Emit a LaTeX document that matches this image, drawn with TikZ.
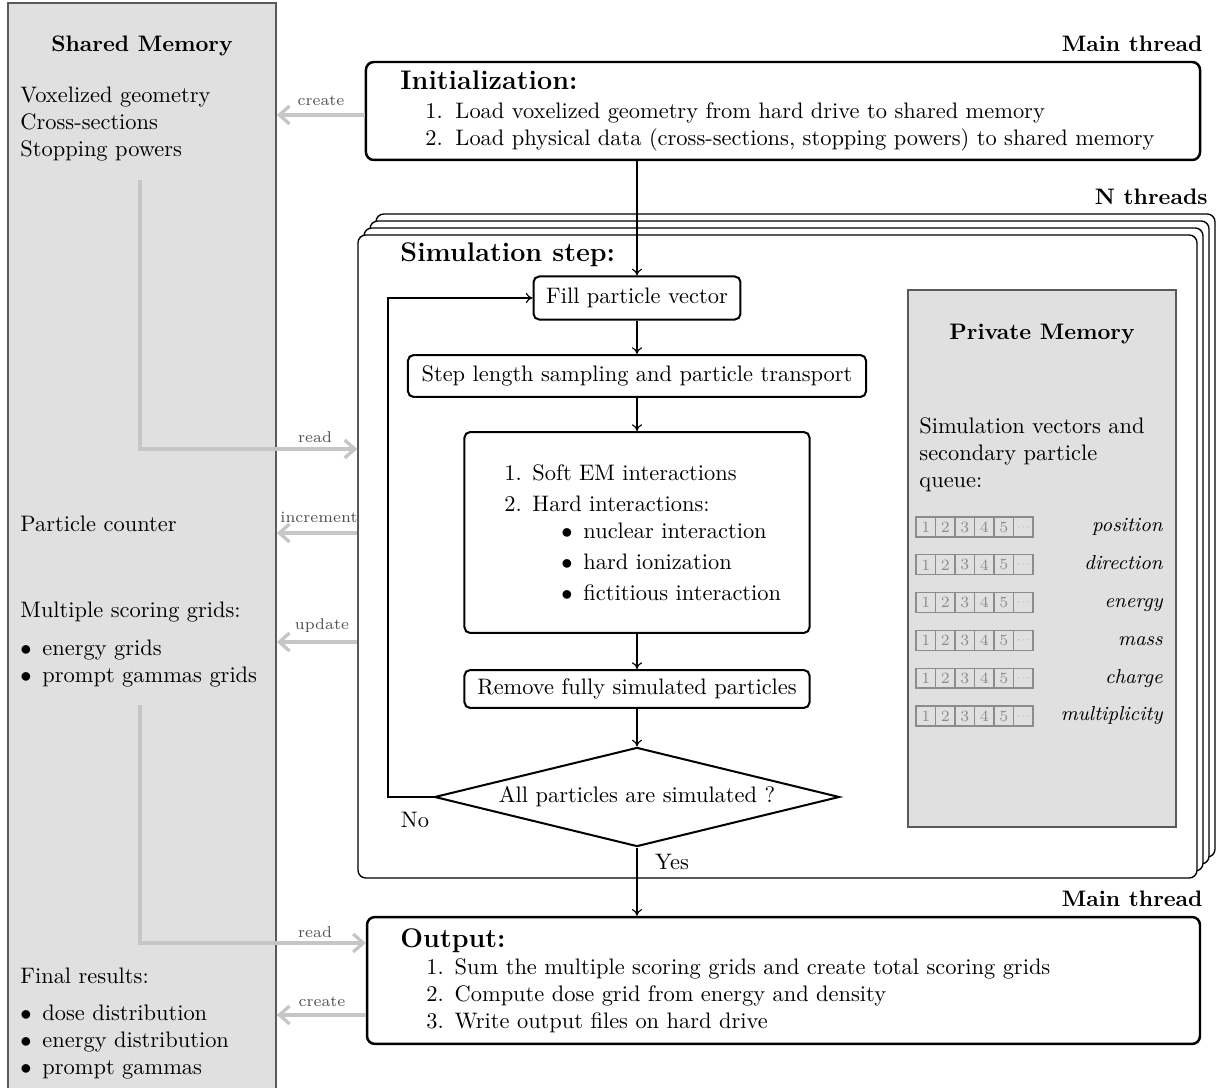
\documentclass[tikz,border=0pt]{standalone}
\usepackage{tikz}
\usepackage{graphicx}
\usetikzlibrary{arrows.meta,shapes.geometric,calc}

\definecolor{memfill}{HTML}{E0E0E0}
\definecolor{memedge}{HTML}{5A5A5A}
\definecolor{flowgray}{HTML}{C6C6C6}
\definecolor{notegray}{HTML}{505050}
\definecolor{cellgray}{HTML}{8C8C8C}

\tikzset{
  mainbox/.style={draw, line width=1.1pt, rounded corners=3.5pt, fill=white, inner sep=0pt},
  threadbox/.style={draw, line width=0.6pt, rounded corners=3.5pt, fill=white, inner sep=0pt,
    minimum width=374.2pt, minimum height=286.8pt},
  stepbox/.style={draw, line width=0.9pt, rounded corners=2.5pt, fill=white, inner sep=0pt},
  membox/.style={draw=memedge, fill=memfill, line width=0.8pt, inner sep=0pt},
  flow/.style={draw, line width=0.5pt, -{To[length=3pt,width=4.5pt]}},
  memflow/.style={draw=flowgray, line width=1.5pt, -{Straight Barb[length=4.5pt,width=8pt]}},
  flowlabel/.style={font=\scriptsize, text=notegray, inner sep=0pt},
  txt/.style={inner sep=0pt, anchor=base west},
  rtxt/.style={inner sep=0pt, anchor=base east},
  cell/.style={draw=cellgray, line width=0.6pt, minimum width=8.7pt, minimum height=8.9pt,
    inner sep=0pt, font=\scriptsize, text=cellgray},
  veclabel/.style={inner sep=0pt, anchor=base east, font=\small\itshape},
}

\newcommand\enumlabel[2]{\makebox[#1][l]{#2}}
\newcommand\bulletlabel{\makebox[9.8pt][l]{$\bullet$}}
\newcommand\celldots{\scalebox{0.55}{$\cdots$}}

\begin{document}
\begin{tikzpicture}[x=0.446pt, y=-0.446pt]
\useasboundingbox (0,0) rectangle (1220,1088);

% ---------------- shared memory column ----------------
\node[membox, minimum width=119.5pt, minimum height=487pt] (shm) at (142,549) {};
\node[inner sep=0pt, anchor=base, font=\bfseries] (shmtitle) at (142,52) {Shared Memory};
\node[txt] (geo) at (20,103) {Voxelized geometry};
\node[txt] (xsec) at (20,130) {Cross-sections};
\node[txt] (spow) at (20,157) {Stopping powers};
\node[txt] (pcount) at (20,532) {Particle counter};
\node[txt] (grids) at (20,618) {Multiple scoring grids:};
\node[txt] (egrid) at (20,656) {\bulletlabel energy grids};
\node[txt] (pggrid) at (20,683) {\bulletlabel prompt gammas grids};
\node[txt] (final) at (20,984) {Final results:};
\node[txt] (dose) at (20,1021) {\bulletlabel dose distribution};
\node[txt] (edist) at (20,1048) {\bulletlabel energy distribution};
\node[txt] (pgam) at (20,1075) {\bulletlabel prompt gammas};

% ---------------- initialization (main thread) ----------------
\node[rtxt, font=\bfseries] (mt1) at (1203,52) {Main thread};
\node[mainbox, minimum width=372pt, minimum height=43.7pt] (init) at (783,111) {};
\node[txt, font=\large\bfseries] (inittitle) at (400,90) {Initialization:};
\node[txt] (init1) at (425,119) {\enumlabel{13.4pt}{1.}Load voxelized geometry from hard drive to shared memory};
\node[txt] (init2) at (425,146) {\enumlabel{13.4pt}{2.}Load physical data (cross-sections, stopping powers) to shared memory};

% ---------------- stacked thread boxes ----------------
\node[rtxt, font=\bfseries] (nthreads) at (1208,205) {N threads};
\foreach \k in {3,2,1}
  \node[threadbox] (copy\k) at ($(777.5,556.5)+(\k*6,-\k*7)$) {};
\node[threadbox] (threads) at (777.5,556.5) {};
\node[txt, font=\large\bfseries] (simtitle) at (400,262) {Simulation step:};

% ---------------- simulation loop ----------------
\node[stepbox, minimum width=92.3pt, minimum height=19.2pt] (fill) at (637,298) {Fill particle vector};
\node[stepbox, minimum width=204.3pt, minimum height=18.7pt] (move) at (637,376) {Step length sampling and particle transport};
\node[stepbox, minimum width=153.9pt, minimum height=89.6pt] (inter) at (637,532.5) {};
\node[txt] (soft) at (504,481) {\enumlabel{12.5pt}{1.}Soft EM interactions};
\node[txt] (hard) at (504,512) {\enumlabel{12.5pt}{2.}Hard interactions:};
\node[txt] (nucl) at (561,539) {\bulletlabel nuclear interaction};
\node[txt] (ion) at (561,570) {\bulletlabel hard ionization};
\node[txt] (fict) at (561,601) {\bulletlabel fictitious interaction};
\node[stepbox, minimum width=153.9pt, minimum height=16.9pt] (remove) at (637,689) {Remove fully simulated particles};
\node[draw, diamond, aspect=4.1, line width=0.9pt, fill=white, inner sep=0pt,
      minimum width=180.6pt, minimum height=44.2pt] (done) at (637,797) {All particles are simulated ?};
\coordinate (loop) at (388,797);

\draw[flow] (fill.north |- init.south) -- (fill.north);
\draw[flow] (fill.south) -- (move.north);
\draw[flow] (move.south) -- (inter.north);
\draw[flow] (inter.south) -- (remove.north);
\draw[flow] (remove.south) -- (done.north);
\draw[flow] (done.west) -- (loop) |- (fill.west);
\node[inner sep=0pt] (no) at (415,820) {No};

% ---------------- private memory ----------------
\node[membox, minimum width=119.5pt, minimum height=239.5pt] (priv) at (1042,558.5) {};
\node[inner sep=0pt, anchor=base, font=\bfseries] (privtitle) at (1042,340) {Private Memory};
\node[txt] (pv1) at (919,434) {Simulation vectors and};
\node[txt] (pv2) at (919,461) {secondary particle};
\node[txt] (pv3) at (919,488) {queue:};
\foreach \name [count=\r from 0] in {position,direction,energy,mass,charge,multiplicity} {
  \pgfmathsetmacro\rowy{527+37.8*\r}
  \foreach \c in {1,...,5}
    \node[cell] (v\r c\c) at ({916+9.75+19.5*(\c-1)},\rowy) {\c};
  \node[cell] (v\r c6) at ({916+9.75+19.5*5},\rowy) {\celldots};
  \node[veclabel] (lab\r) at (1163,\rowy+5) {\name};
}

% ---------------- output (main thread) ----------------
\node[rtxt, font=\bfseries] (mt2) at (1203,907) {Main thread};
\node[mainbox, minimum width=371.5pt, minimum height=56.6pt] (output) at (783.5,980.5) {};
\node[txt, font=\large\bfseries] (outtitle) at (400,948) {Output:};
\node[txt] (out1) at (426,975) {\enumlabel{12.6pt}{1.}Sum the multiple scoring grids and create total scoring grids};
\node[txt] (out2) at (426,1002) {\enumlabel{12.6pt}{2.}Compute dose grid from energy and density};
\node[txt] (out3) at (426,1029) {\enumlabel{12.6pt}{3.}Write output files on hard drive};

\draw[flow] (done.south) -- (done.south |- output.north);
\node[inner sep=0pt] (yes) at (672,862) {Yes};

% ---------------- shared memory traffic ----------------
\coordinate (rd1) at (140,180);
\coordinate (rd2) at (140,705);
\draw[memflow] (init.west |- 0,115) -- (shm.east |- 0,115);
\node[flowlabel] (lcreate1) at (321,101) {create};
\draw[memflow] (rd1) |- (threads.west |- 0,449);
\node[flowlabel] (lread1) at (315,437) {read};
\draw[memflow] (threads.west |- 0,533) -- (shm.east |- 0,533);
\node[flowlabel] (lincr) at (319,517) {increment};
\draw[memflow] (threads.west |- 0,642) -- (shm.east |- 0,642);
\node[flowlabel] (lupd) at (322,626) {update};
\draw[memflow] (rd2) |- (output.west |- 0,943);
\node[flowlabel] (lread2) at (315,932) {read};
\draw[memflow] (output.west |- 0,1015) -- (shm.east |- 0,1015);
\node[flowlabel] (lcreate2) at (322,1002) {create};
\end{tikzpicture}
\end{document}
